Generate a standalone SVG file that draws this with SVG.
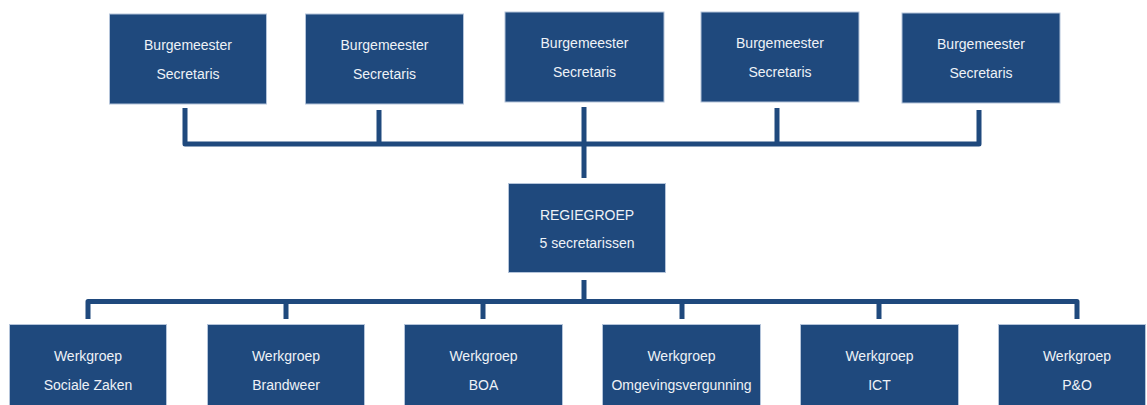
<svg xmlns="http://www.w3.org/2000/svg" width="1147" height="405" viewBox="0 0 1147 405">
<style>
.box{fill:#1F497D;stroke:#B4C4DA;stroke-width:1}
.t{font-family:"Liberation Sans",Arial,sans-serif;font-size:14px;fill:#EEF2F7;text-anchor:middle}
.c{stroke:#1F497D;stroke-width:5;fill:none;stroke-linejoin:round}
</style>
<rect width="1147" height="405" fill="#FFFFFF"/>
<g id="connectors">
<path class="c" d="M185 108V144H979V110"/>
<path class="c" d="M379 110V144"/>
<path class="c" d="M777 108V144"/>
<path class="c" d="M584 107V178"/>
<path class="c" d="M584 280V301.5"/>
<path class="c" d="M88 319V301.5H1077V319"/>
<path class="c" d="M286 301.5V319"/>
<path class="c" d="M483 301.5V319"/>
<path class="c" d="M682 301.5V319"/>
<path class="c" d="M879 301.5V319"/>
</g>
<g id="bs1"><rect class="box" x="109.5" y="14" width="157" height="90"/><text class="t" x="188" y="50">Burgemeester</text><text class="t" x="188" y="79">Secretaris</text></g>
<g id="bs2"><rect class="box" x="305.5" y="14" width="158" height="90"/><text class="t" x="384.5" y="50">Burgemeester</text><text class="t" x="384.5" y="79">Secretaris</text></g>
<g id="bs3"><rect class="box" x="505" y="12" width="159" height="90"/><text class="t" x="584.5" y="48">Burgemeester</text><text class="t" x="584.5" y="77">Secretaris</text></g>
<g id="bs4"><rect class="box" x="701" y="12" width="158" height="90"/><text class="t" x="780" y="48">Burgemeester</text><text class="t" x="780" y="77">Secretaris</text></g>
<g id="bs5"><rect class="box" x="902" y="13" width="158" height="90"/><text class="t" x="981" y="49">Burgemeester</text><text class="t" x="981" y="78">Secretaris</text></g>
<g id="regie"><rect class="box" x="508.5" y="183.5" width="157" height="89"/><text class="t" x="587" y="220">REGIEGROEP</text><text class="t" x="587" y="248">5 secretarissen</text></g>
<g id="w1"><rect class="box" x="9.5" y="324.5" width="157" height="90"/><text class="t" x="88" y="361">Werkgroep</text><text class="t" x="88" y="390">Sociale Zaken</text></g>
<g id="w2"><rect class="box" x="207.5" y="324.5" width="157" height="90"/><text class="t" x="286" y="361">Werkgroep</text><text class="t" x="286" y="390">Brandweer</text></g>
<g id="w3"><rect class="box" x="404.5" y="324.5" width="158" height="90"/><text class="t" x="483.5" y="361">Werkgroep</text><text class="t" x="483.5" y="390">BOA</text></g>
<g id="w4"><rect class="box" x="602.5" y="324.5" width="158" height="90"/><text class="t" x="681.5" y="361">Werkgroep</text><text class="t" x="681.5" y="390">Omgevingsvergunning</text></g>
<g id="w5"><rect class="box" x="800.5" y="324.5" width="158" height="90"/><text class="t" x="879.5" y="361">Werkgroep</text><text class="t" x="879.5" y="390">ICT</text></g>
<g id="w6"><rect class="box" x="998.5" y="324.5" width="147" height="90"/><text class="t" x="1077" y="361">Werkgroep</text><text class="t" x="1077" y="390">P&amp;O</text></g>
</svg>
